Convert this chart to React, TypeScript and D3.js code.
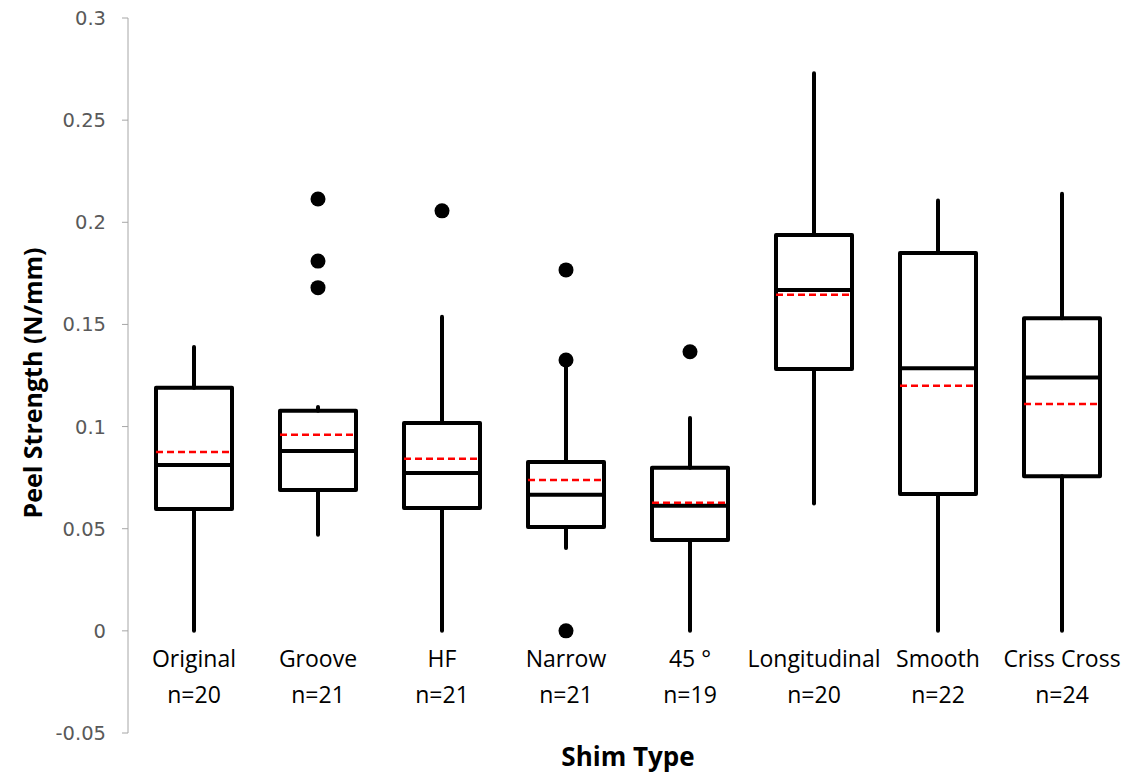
import React from "react";
import * as d3 from "d3";

const categories = ["Original", "Groove", "HF", "Narrow", "45 °", "Longitudinal", "Smooth", "Criss Cross"];
const counts = ["n=20", "n=21", "n=21", "n=21", "n=19", "n=20", "n=22", "n=24"];
const whiskerLow = [0.0, 0.047, 0.0, 0.0406, 0.0, 0.0624, 0.0, 0.0];
const q1 = [0.0597, 0.069, 0.0602, 0.0509, 0.0445, 0.1282, 0.067, 0.0757];
const medians = [0.0812, 0.088, 0.0773, 0.0666, 0.0612, 0.1669, 0.1285, 0.124];
const means = [0.0876, 0.096, 0.0842, 0.0739, 0.0627, 0.1645, 0.12, 0.111];
const q3 = [0.119, 0.1077, 0.1018, 0.0827, 0.0798, 0.1938, 0.185, 0.153];
const whiskerHigh = [0.139, 0.1096, 0.1537, 0.1326, 0.1042, 0.273, 0.2107, 0.214];
const outliers: number[][] = [[], [0.2114, 0.181, 0.168], [0.2056], [0.1767, 0.1326, 0.0], [0.1366], [], [], []];
const yTicks = [-0.05, 0, 0.05, 0.1, 0.15, 0.2, 0.25, 0.3];

export default function App() {
  const W = 1135, H = 776;
  const axisX = 128;
  const y = d3.scaleLinear().domain([-0.05, 0.3]).range([733, 18]);
  const x = d3.scaleBand<string>().domain(categories).range([132, 1124]).paddingInner(0.39).paddingOuter(0.195);
  const bw = 76;
  const tickFmt = (v: number) => (Math.abs(v) < 1e-9 ? "0" : String(+v.toFixed(2)));
  const catFont = "'Open Sans', sans-serif";
  const boldFont = "'Open Sans', 'DejaVu Sans', sans-serif";
  return (
    <svg width={W} height={H} style={{ position: "absolute", left: 0, top: 0, background: "#fff" }}>
      {/* y axis */}
      <line x1={axisX} x2={axisX} y1={y(0.3)} y2={y(-0.05)} stroke="#a6a6a6" strokeWidth={1} />
      {yTicks.map((t) => (
        <g key={t}>
          <line x1={axisX - 6} x2={axisX} y1={y(t)} y2={y(t)} stroke="#a6a6a6" strokeWidth={1} />
          <text x={106} y={y(t)} dy="0.36em" textAnchor="end" fontFamily="'DejaVu Sans', sans-serif" fontSize={19.5} fill="#595959">
            {tickFmt(t)}
          </text>
        </g>
      ))}
      {/* boxes */}
      {categories.map((c, i) => {
        const cx = (x(c) as number) + x.bandwidth() / 2;
        const left = cx - bw / 2;
        return (
          <g key={c}>
            <line x1={cx} x2={cx} y1={y(q3[i])} y2={y(whiskerHigh[i])} stroke="#000" strokeWidth={4} strokeLinecap="round" />
            <line x1={cx} x2={cx} y1={y(q1[i])} y2={y(whiskerLow[i])} stroke="#000" strokeWidth={4} strokeLinecap="round" />
            <rect x={left} y={y(q3[i])} width={bw} height={y(q1[i]) - y(q3[i])} fill="none" stroke="#000" strokeWidth={4} strokeLinejoin="round" />
            <line x1={left} x2={left + bw} y1={y(medians[i])} y2={y(medians[i])} stroke="#000" strokeWidth={4} />
            <line x1={left} x2={left + bw} y1={y(means[i])} y2={y(means[i])} stroke="#ff0000" strokeWidth={2.5} strokeDasharray="7,4" />
            {outliers[i].map((o, j) => (
              <circle key={j} cx={cx} cy={y(o)} r={7.5} fill="#000" />
            ))}
            <text x={cx} y={667} textAnchor="middle" fontFamily={catFont} fontSize={23} fill="#000">{c}</text>
            <text x={cx} y={703} textAnchor="middle" fontFamily={catFont} fontSize={23} fill="#000">{counts[i]}</text>
          </g>
        );
      })}
      {/* axis titles */}
      <text x={628} y={766} textAnchor="middle" fontFamily={boldFont} fontWeight="bold" fontSize={26} fill="#000">Shim Type</text>
      <text transform="translate(42,383) rotate(-90)" textAnchor="middle" fontFamily={boldFont} fontWeight="bold" fontSize={25} fill="#000">
        Peel Strength (N/mm)
      </text>
    </svg>
  );
}
